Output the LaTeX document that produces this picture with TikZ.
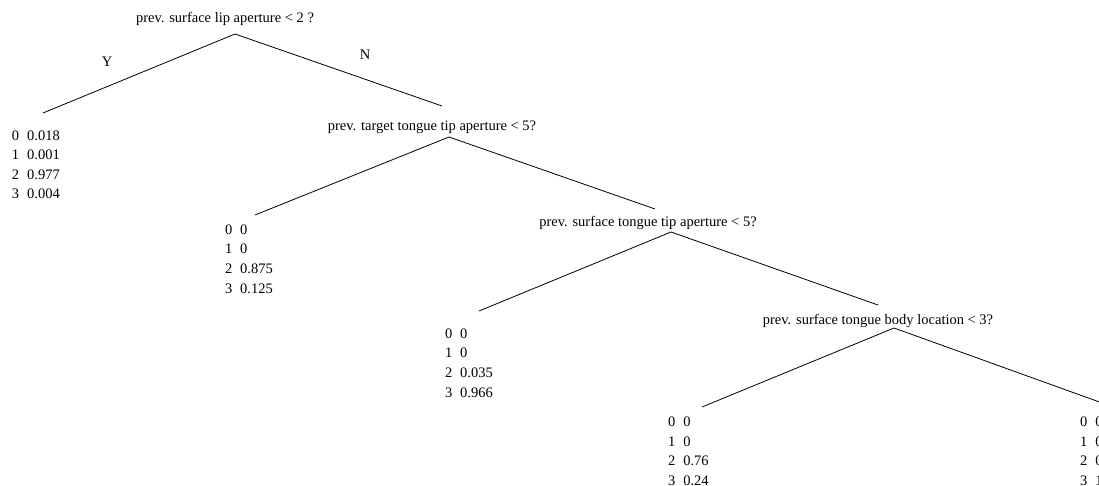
\documentclass[tikz,border=0pt]{standalone}
\usepackage{fontspec}
\setmainfont{Liberation Serif}
\begin{document}
\begin{tikzpicture}[x=1pt,y=-1pt,
  every node/.style={inner sep=0pt,outer sep=0pt},
  question/.style={anchor=base,font=\fontsize{14.5}{17}\selectfont},
  branch/.style={anchor=center,font=\fontsize{14.5}{17}\selectfont},
  leaf/.style={anchor=base west,align=left,font=\fontsize{14.5}{19.6}\selectfont},
  edge/.style={draw=black,line width=0.8pt}]
\useasboundingbox (0,0) rectangle (1099,486);
\clip (0,0) rectangle (1099,486);
% questions
\node[question] (q1) at (225,23) {prev. surface lip aperture < 2 ?};
\node[question] (q2) at (432,131) {prev. target tongue tip aperture < 5?};
\node[question] (q3) at (648,227) {prev. surface tongue tip aperture < 5?};
\node[question] (q4) at (878,324) {prev. surface tongue body location < 3?};
\node[branch] (yl) at (107,62) {Y};
\node[branch] (nl) at (365,55) {N};
% leaves (anchor is the baseline of the last line)
\node[leaf] (l1) at (12,199) {0\hspace{8pt}0.018\\1\hspace{8pt}0.001\\2\hspace{8pt}0.977\\3\hspace{8pt}0.004};
\node[leaf] (l2) at (225,293) {0\hspace{8pt}0\\1\hspace{8pt}0\\2\hspace{8pt}0.875\\3\hspace{8pt}0.125};
\node[leaf] (l3) at (445,397) {0\hspace{8pt}0\\1\hspace{8pt}0\\2\hspace{8pt}0.035\\3\hspace{8pt}0.966};
\node[leaf] (l4) at (668,485.5) {0\hspace{8pt}0\\1\hspace{8pt}0\\2\hspace{8pt}0.76\\3\hspace{8pt}0.24};
\node[leaf] (l5) at (1080,485.5) {0\hspace{8pt}0\\1\hspace{8pt}0\\2\hspace{8pt}0\\3\hspace{8pt}1};
% connector points
\coordinate (a1) at (235,34);
\coordinate (a2) at (449,137);
\coordinate (a3) at (671,232);
\coordinate (a4) at (894,328);
\coordinate (e1) at (43,113);
\coordinate (e2) at (255,215);
\coordinate (e3) at (479,311);
\coordinate (e4) at (702,407);
\coordinate (f1) at (442,106);
\coordinate (f2) at (655,209);
\coordinate (f3) at (878,305);
\coordinate (f4) at (1105,404);
\draw[edge] (e1) -- (a1) -- (f1);
\draw[edge] (e2) -- (a2) -- (f2);
\draw[edge] (e3) -- (a3) -- (f3);
\draw[edge] (e4) -- (a4) -- (f4);
\end{tikzpicture}
\end{document}
